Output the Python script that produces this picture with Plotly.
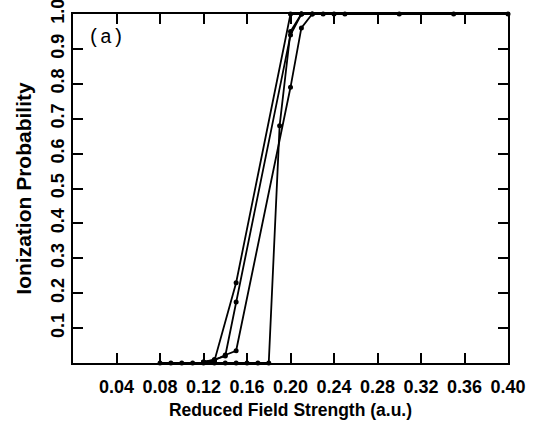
import plotly.graph_objects as go

# ionization probability vs reduced field strength, four curves
x_steep = [0.08, 0.09, 0.10, 0.11, 0.12, 0.13, 0.14, 0.15, 0.16, 0.17, 0.18,
           0.19, 0.20, 0.21, 0.22, 0.23, 0.24, 0.25, 0.30, 0.35, 0.40]
y_steep = [0, 0, 0, 0, 0, 0, 0, 0, 0, 0, 0,
           0.68, 0.95, 1.0, 1.0, 1.0, 1.0, 1.0, 1.0, 1.0, 1.0]

x_b = [0.12, 0.13, 0.14, 0.15, 0.20, 0.21, 0.22]
y_b = [0.003, 0.008, 0.023, 0.035, 0.79, 0.96, 1.0]

x_c = [0.12, 0.13, 0.15, 0.20, 0.21]
y_c = [0.002, 0.006, 0.23, 1.0, 1.0]

x_d = [0.12, 0.13, 0.14, 0.15, 0.20, 0.21]
y_d = [0.003, 0.01, 0.02, 0.175, 0.94, 1.0]

x_ticks = [0.04, 0.08, 0.12, 0.16, 0.20, 0.24, 0.28, 0.32, 0.36, 0.40]
y_ticks = [0.1, 0.2, 0.3, 0.4, 0.5, 0.6, 0.7, 0.8, 0.9, 1.0]

fig = go.Figure()
for xs, ys in [(x_steep, y_steep), (x_b, y_b), (x_c, y_c), (x_d, y_d)]:
    fig.add_trace(go.Scatter(
        x=xs, y=ys, mode='lines+markers',
        line=dict(color='black', width=1.8),
        marker=dict(color='black', size=5),
        showlegend=False, cliponaxis=False, hoverinfo='skip'
    ))

font_b = dict(family='Liberation Sans', color='black', weight='bold')

fig.update_layout(
    width=535, height=430,
    margin=dict(l=73, r=27, t=14, b=67),
    paper_bgcolor='white', plot_bgcolor='white',
    hovermode=False,
    xaxis=dict(
        range=[0, 0.40], tickvals=x_ticks,
        ticktext=['%.2f' % v for v in x_ticks],
        ticks='inside', ticklen=10, tickwidth=2, tickcolor='black',
        showline=True, linewidth=2, linecolor='black', mirror='ticks',
        showgrid=False, zeroline=False, automargin=False,
        tickfont=dict(size=18, **font_b), ticklabelstandoff=6,
        ticklabeloverflow='allow',
        title=dict(text='Reduced Field Strength (a.u.)', font=dict(size=17.5, **font_b), standoff=8),
    ),
    yaxis=dict(
        range=[0, 1.0], tickvals=y_ticks,
        ticktext=['%.1f' % v for v in y_ticks],
        ticks='inside', ticklen=10, tickwidth=2, tickcolor='black',
        showline=True, linewidth=2, linecolor='black', mirror='ticks',
        showgrid=False, zeroline=False, tickangle=-90, automargin=False,
        tickfont=dict(size=18, **font_b), ticklabeloverflow='allow',
        title=dict(text='Ionization Probability', font=dict(size=21, **font_b), standoff=10),
    ),
    annotations=[dict(
        text='(a)', xref='paper', yref='paper', x=0.03, y=0.934,
        xanchor='left', yanchor='middle', showarrow=False,
        font=dict(family='Liberation Mono', size=20, color='black')
    )]
)

# drop the default 8px body margin so the figure fills the window
fig.write_html("out.html", config={'displayModeBar': False},
               post_script="document.body.style.margin = '0';")
